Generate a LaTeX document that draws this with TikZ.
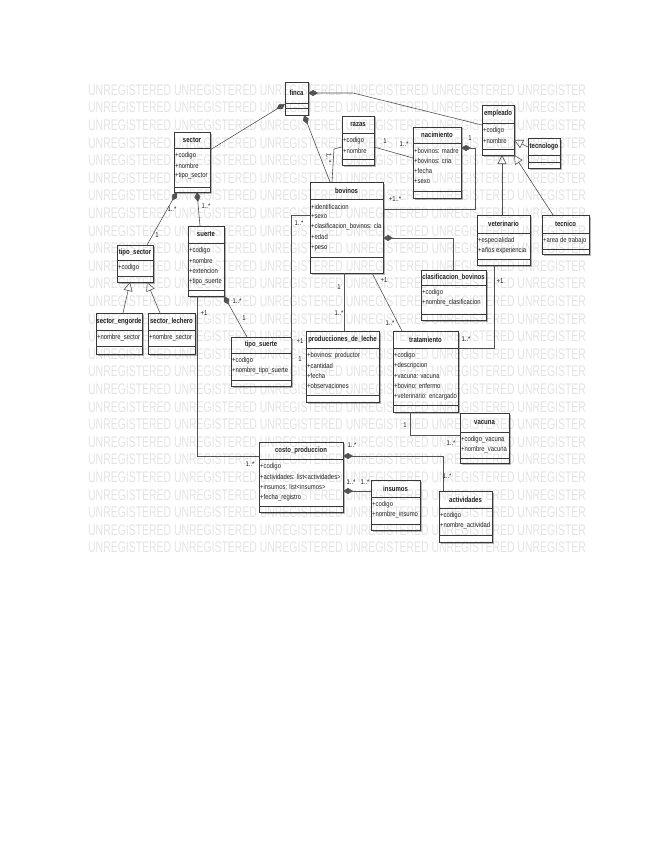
\documentclass[tikz,border=0pt]{standalone}
\usepackage{fontspec}
\setmainfont{Liberation Sans}
\usepackage{graphicx}
\usetikzlibrary{arrows.meta,calc,fit}
\definecolor{boxc}{HTML}{3A3A3A}
\definecolor{linec}{HTML}{555555}
\definecolor{txtc}{HTML}{222222}
\newcommand\ttlfont[1]{\scalebox{0.8}[1]{\fontsize{7.5}{9}\selectfont\bfseries #1}}
\newcommand\attfont[1]{\scalebox{0.82}[1]{\fontsize{7.2}{9}\selectfont #1}}
\newcommand\mlab[1]{\scalebox{0.85}[1]{\fontsize{7}{8}\selectfont #1}}
\newcommand\umlclass[9]{%
  \coordinate (#1-nw) at (#2,#3);
  \coordinate (#1-se) at (#4,#5);
  \fill[shadowc] ($(#1-nw)+(1.5,1.5)$) rectangle ($(#1-se)+(1.5,1.5)$);
  \node[clsbox, fit=(#1-nw)(#1-se)] (#1) {};
  \draw[sepline] (#2,#6) -- (#4,#6);
  \draw[sepline] (#2,#7) -- (#4,#7);
  \node[ttl] (#1-t) at ({(#2+#4)/2},{(#3+#6)/2}) {\ttlfont{#8}};
  \def\attrs{#9}\ifx\attrs\empty\else
  \foreach \a [count=\i] in {#9} {\node[att] (#1-a\i) at ({#2+1},{#6+7.5+(\i-1)*10.3}) {\attfont{\a}};}
  \fi
}
\begin{document}
\begin{tikzpicture}[x=1pt,y=-1pt,
  clsbox/.style={draw=boxc, line width=0.7pt, fill=white, inner sep=0pt, outer sep=0pt},
  sepline/.style={draw=boxc, line width=0.6pt},
  shadowc/.style={fill=black!28},
  ttl/.style={inner sep=0pt, text=txtc},
  att/.style={inner sep=0pt, text=txtc, anchor=west},
  conn/.style={draw=linec, line width=0.6pt},
  compend/.style={-{Diamond[length=10pt,width=6pt]}},
  compstart/.style={{Diamond[length=10pt,width=6pt]}-},
  gen/.style={-{Triangle[open,length=9pt,width=9pt,fill=white]}},
  mult/.style={inner sep=0pt, text=txtc},
  wm/.style={inner sep=0pt, anchor=west, text=black, text opacity=0.11}]
\useasboundingbox (0,0) rectangle (655,848);
\fill[white] (0,0) rectangle (655,848);

\umlclass{finca}{285}{82}{308}{115}{103}{108}{finca}{}
\umlclass{sector}{174}{132}{210}{192}{148}{187}{sector}{+codigo,+nombre,+tipo\_sector}
\umlclass{razas}{342}{116}{374}{165}{133}{159}{razas}{+codigo,+nombre}
\umlclass{nacimiento}{413}{127}{461}{198}{143}{191}{nacimiento}{+bovinos: madre,+bovinos: cria,+fecha,+sexo}
\umlclass{empleado}{482}{105}{514}{155}{123}{149}{empleado}{+codigo,+nombre}
\umlclass{tecnologo}{528}{138}{560}{168}{155}{162}{tecnologo}{}
\umlclass{bovinos}{310}{182}{383}{273}{199}{257}{bovinos}{+identificacion,+sexo,+clasificacion\_bovinos: cla,+edad,+peso}
\umlclass{tiposector}{117}{245}{153}{282}{260}{276}{tipo\_sector}{+codigo}
\umlclass{suerte}{188}{226}{224}{296}{243}{290}{suerte}{+codigo,+nombre,+extencion,+tipo\_suerte}
\umlclass{clasif}{421}{270}{486}{320}{285}{314}{clasificacion\_bovinos}{+codigo,+nombre\_clasificacion}
\umlclass{veterinario}{477}{215}{530}{265}{233}{259}{veterinario}{+especialidad,+años experiencia}
\umlclass{tecnico}{542}{215}{589}{254}{233}{249}{tecnico}{+area de trabajo}
\umlclass{engorde}{96}{313}{142}{354}{330}{346}{sector\_engorde}{+nombre\_sector}
\umlclass{lechero}{148}{313}{195}{354}{330}{346}{sector\_lechero}{+nombre\_sector}
\umlclass{tiposuerte}{231}{337}{291}{386}{353}{380}{tipo\_suerte}{+codigo,+nombre\_tipo\_suerte}
\umlclass{prod}{306}{331}{379}{402}{348}{395}{producciones\_de\_leche}{+bovinos: productor,+cantidad,+fecha,+observaciones}
\umlclass{tratamiento}{393}{331}{458}{412}{348}{405}{tratamiento}{+codigo,+descripcion,+vacuna: vacuna,+bovino: enfermo,+veterinario: encargado}
\umlclass{vacuna}{460}{413}{509}{463}{432}{458}{vacuna}{+codigo\_vacuna,+nombre\_vacuna}
\umlclass{costo}{259}{442}{343}{512}{459}{506}{costo\_produccion}{+codigo,+actividades: list<actividades>,+insumos: list<insumos>,+fecha\_registro}
\umlclass{insumos}{371}{480}{420}{530}{497}{524}{insumos}{+codigo,+nombre\_insumo}
\umlclass{actividades}{439}{491}{492}{542}{508}{535}{actividades}{+codigo,+nombre\_actividad}

% connectors
\draw[conn,compend] ([yshift=-18pt]sector.north east) -- ([yshift=-22pt]finca.north west);
\draw[conn,compstart] ([xshift=19pt]finca.south west) -- ([xshift=20pt]bovinos.north west);
\draw[conn,compstart] ([yshift=-11pt]finca.north east) -- ++(45,0) -- ([yshift=-20pt]empleado.north west);
\draw[conn] ([yshift=-31pt]razas.north west) -- ++(-8,2) -- ([xshift=22pt]bovinos.north west);
\draw[conn] ([yshift=-31pt]razas.north east) -- ([yshift=-31pt]nacimiento.north west);
\draw[conn,compstart] ([yshift=-21pt]nacimiento.north east) -- ++(14,0) |- ([yshift=-27pt]bovinos.north east);
\draw[conn,gen] ([yshift=-9pt]tecnologo.north west) -- ([yshift=-35pt]empleado.north east);
\draw[conn,gen] ([xshift=25pt]veterinario.north west) -- ([xshift=20pt]empleado.south west);
\draw[conn,gen] ([xshift=11pt]tecnico.north west) -- (empleado.south east);
\draw[conn,compstart] ([xshift=3pt]sector.south west) -- ([xshift=30pt]tiposector.north west);
\draw[conn,compstart] ([xshift=23pt]sector.south west) -- ([xshift=12pt]suerte.north west);
\draw[conn,gen] ([xshift=27pt]engorde.north west) -- ([xshift=13pt]tiposector.south west);
\draw[conn,gen] ([xshift=12pt]lechero.north west) -- ([xshift=30pt]tiposector.south west);
\draw[conn,compstart] (suerte.south east) -- ([xshift=16pt]tiposuerte.north west);
\draw[conn] ([xshift=9pt]suerte.south west) |- ([yshift=-14pt]costo.north west);
\draw[conn] ([yshift=-33pt]bovinos.north west) -| ([yshift=-15pt]tiposuerte.north east);
\draw[conn] ([xshift=34pt]bovinos.south west) -- ([xshift=38pt]prod.north west);
\draw[conn] ([xshift=62pt]bovinos.south west) -- ([xshift=9pt]tratamiento.north west);
\draw[conn,compstart] ([yshift=-56pt]bovinos.north east) -| ([xshift=32pt]clasif.north west);
\draw[conn] ([xshift=17pt]veterinario.south west) |- ([yshift=-17pt]tratamiento.north east);
\draw[conn] ([xshift=17pt]tratamiento.south west) |- ([yshift=-22pt]vacuna.north west);
\draw[conn,compstart] ([yshift=-14pt]costo.north east) -| ([xshift=4pt]actividades.north west);
\draw[conn,compstart] ([yshift=-49pt]costo.north east) -- ([yshift=-11pt]insumos.north west);

% multiplicities
\node[mult,rotate=-90] (m1) at (329,158) {\mlab{1..*}};
\node[mult] (m2) at (385,141) {\mlab{1}};
\node[mult] (m3) at (404,144) {\mlab{1..*}};
\node[mult] (m4) at (470,138) {\mlab{1}};
\node[mult] (m5) at (395,199) {\mlab{+1..*}};
\node[mult] (m6) at (172,209) {\mlab{1..*}};
\node[mult] (m7) at (157,235) {\mlab{1}};
\node[mult] (m8) at (206,206) {\mlab{1..*}};
\node[mult] (m9) at (237,301) {\mlab{1..*}};
\node[mult] (m10) at (244,318) {\mlab{1}};
\node[mult] (m11) at (204,313) {\mlab{+1}};
\node[mult] (m12) at (250,464) {\mlab{1..*}};
\node[mult] (m13) at (299,223) {\mlab{1..*}};
\node[mult] (m14) at (300,341) {\mlab{+1}};
\node[mult] (m15) at (300,359) {\mlab{1}};
\node[mult] (m16) at (339,287) {\mlab{1}};
\node[mult] (m17) at (339,313) {\mlab{1..*}};
\node[mult] (m18) at (384,280) {\mlab{+1}};
\node[mult] (m19) at (390,323) {\mlab{1..*}};
\node[mult] (m20) at (500,281) {\mlab{+1}};
\node[mult] (m21) at (466,339) {\mlab{1..*}};
\node[mult] (m22) at (405,425) {\mlab{1}};
\node[mult] (m23) at (451,443) {\mlab{1..*}};
\node[mult] (m24) at (352,445) {\mlab{1..*}};
\node[mult] (m25) at (447,476) {\mlab{1..*}};
\node[mult] (m26) at (351,482) {\mlab{1..*}};
\node[mult] (m27) at (365,482) {\mlab{1..*}};

% watermark
\foreach \k in {0,...,26} {
  \node[wm] (wm\k) at (88,{90+\k*17.6}) {\scalebox{0.678}[1]{\fontsize{15.4}{16}\selectfont UNREGISTERED UNREGISTERED UNREGISTERED UNREGISTERED UNREGISTERED UNREGISTER}};
}
\end{tikzpicture}
\end{document}
